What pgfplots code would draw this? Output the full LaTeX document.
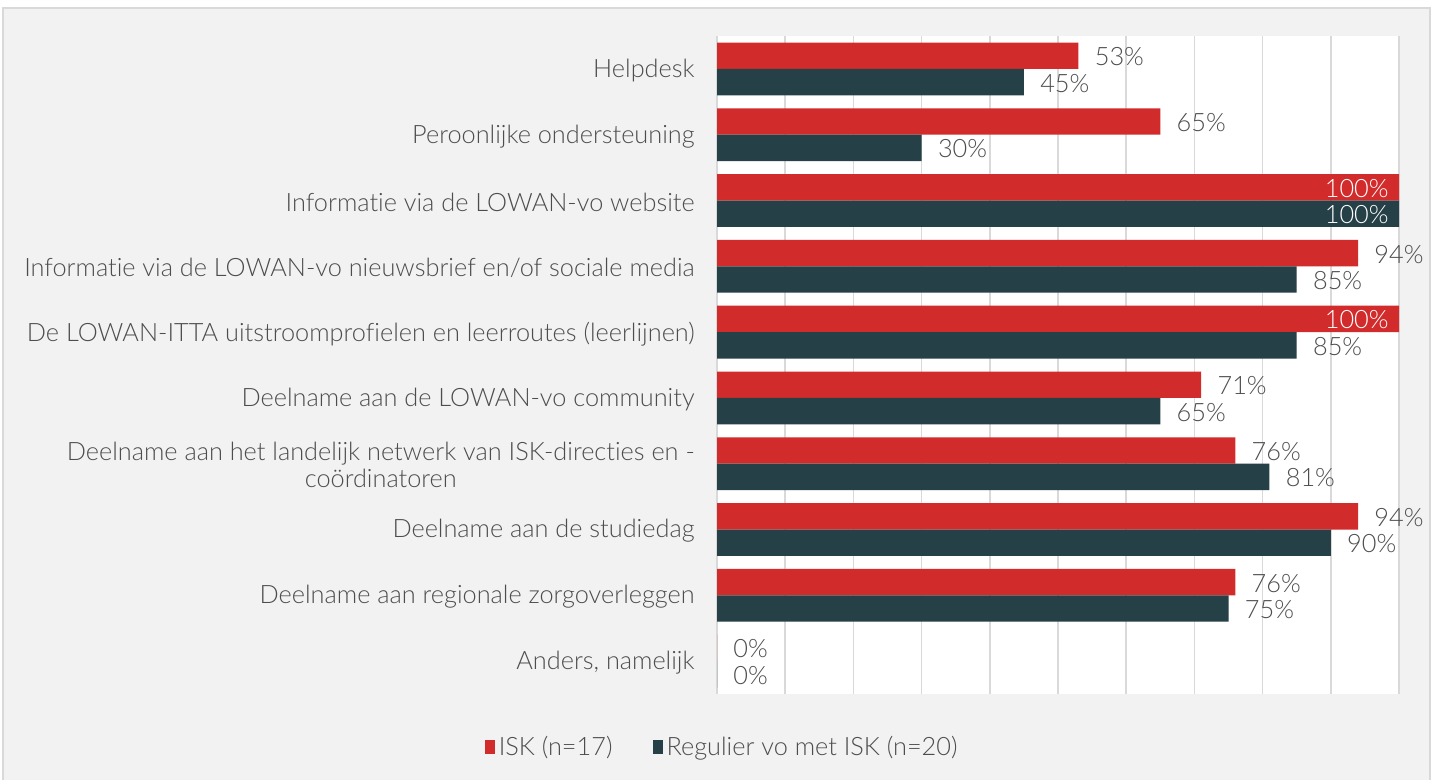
\documentclass[border=0pt]{standalone}
\usepackage{pgfplots}
\pgfplotsset{compat=1.18}
\usepackage{fontspec}
\setmainfont{Lato Light}[Ligatures=NoCommon]
\definecolor{iskred}{HTML}{D22B2B}
\definecolor{regdark}{HTML}{264047}
\definecolor{txt}{HTML}{4D4D4D}
\definecolor{panel}{HTML}{F2F2F2}
\definecolor{gridc}{HTML}{D9D9D9}
\begin{document}
\begin{tikzpicture}
\path[use as bounding box] (0,0) rectangle (717pt,390pt);
\fill[white] (0,0) rectangle (717pt,390pt);
\filldraw[fill=panel,draw=gridc,line width=0.8pt] (1.5pt,-2pt) rectangle (715pt,386pt);
\begin{axis}[
  at={(358.5pt,43pt)}, anchor=south west,
  scale only axis, width=341pt, height=329pt,
  xbar, bar width=13.2pt,
  xmin=0, xmax=100,
  ymin=-0.5, ymax=9.5, y dir=reverse,
  axis background/.style={fill=white},
  axis line style={draw=none},
  xtick={0,10,...,100}, xticklabels={},
  xmajorgrids, major grid style={gridc, line width=0.8pt},
  major tick length=0pt,
  ytick={0,...,9},
  yticklabels={Helpdesk, Peroonlijke ondersteuning, Informatie via de LOWAN-vo website, Informatie via de LOWAN-vo nieuwsbrief en/of sociale media, De LOWAN-ITTA uitstroomprofielen en leerroutes (leerlijnen), Deelname aan de LOWAN-vo community, {Deelname aan het landelijk netwerk van ISK-directies en -\\coördinatoren}, Deelname aan de studiedag, Deelname aan regionale zorgoverleggen, {Anders, namelijk}},
  y tick label style={font=\fontsize{12.65}{13.5}\selectfont, text=txt, align=center, inner xsep=11pt, yshift=-0.8pt},
  /pgf/number format/assume math mode=true,
  visualization depends on={rawx \as \rawx},
  nodes near coords={\pgfmathprintnumber{\rawx}\%},
  nodes near coords style={font=\fontsize{12.65}{13.5}\selectfont, text=txt, anchor=west, inner xsep=8pt, yshift=-0.5pt},
  every node near coord/.append code={\ifdim\rawx pt>99pt\relax\pgfkeysalso{/tikz/anchor=east,/tikz/text=white,/tikz/inner xsep=5pt}\fi},
  legend style={at={(0.009,-0.0805)}, anchor=center, legend columns=2, draw=none, fill=none,
    font=\fontsize{12.65}{13.5}\selectfont, text=txt,
    /tikz/every even column/.append style={column sep=18pt}},
  legend image code/.code={\fill[#1] (0pt,-3.3pt) rectangle (5pt,3.3pt);},
]
\addplot[fill=iskred, draw=none, bar shift=6.6pt] coordinates {(53,0) (65,1) (100,2) (94,3) (100,4) (71,5) (76,6) (94,7) (76,8) (0,9)};
\addplot[fill=regdark, draw=none, bar shift=-6.6pt] coordinates {(45,0) (30,1) (100,2) (85,3) (85,4) (65,5) (81,6) (90,7) (75,8) (0,9)};
\legend{ISK (n=17), Regulier vo met ISK (n=20)}
\end{axis}
\end{tikzpicture}
\end{document}
